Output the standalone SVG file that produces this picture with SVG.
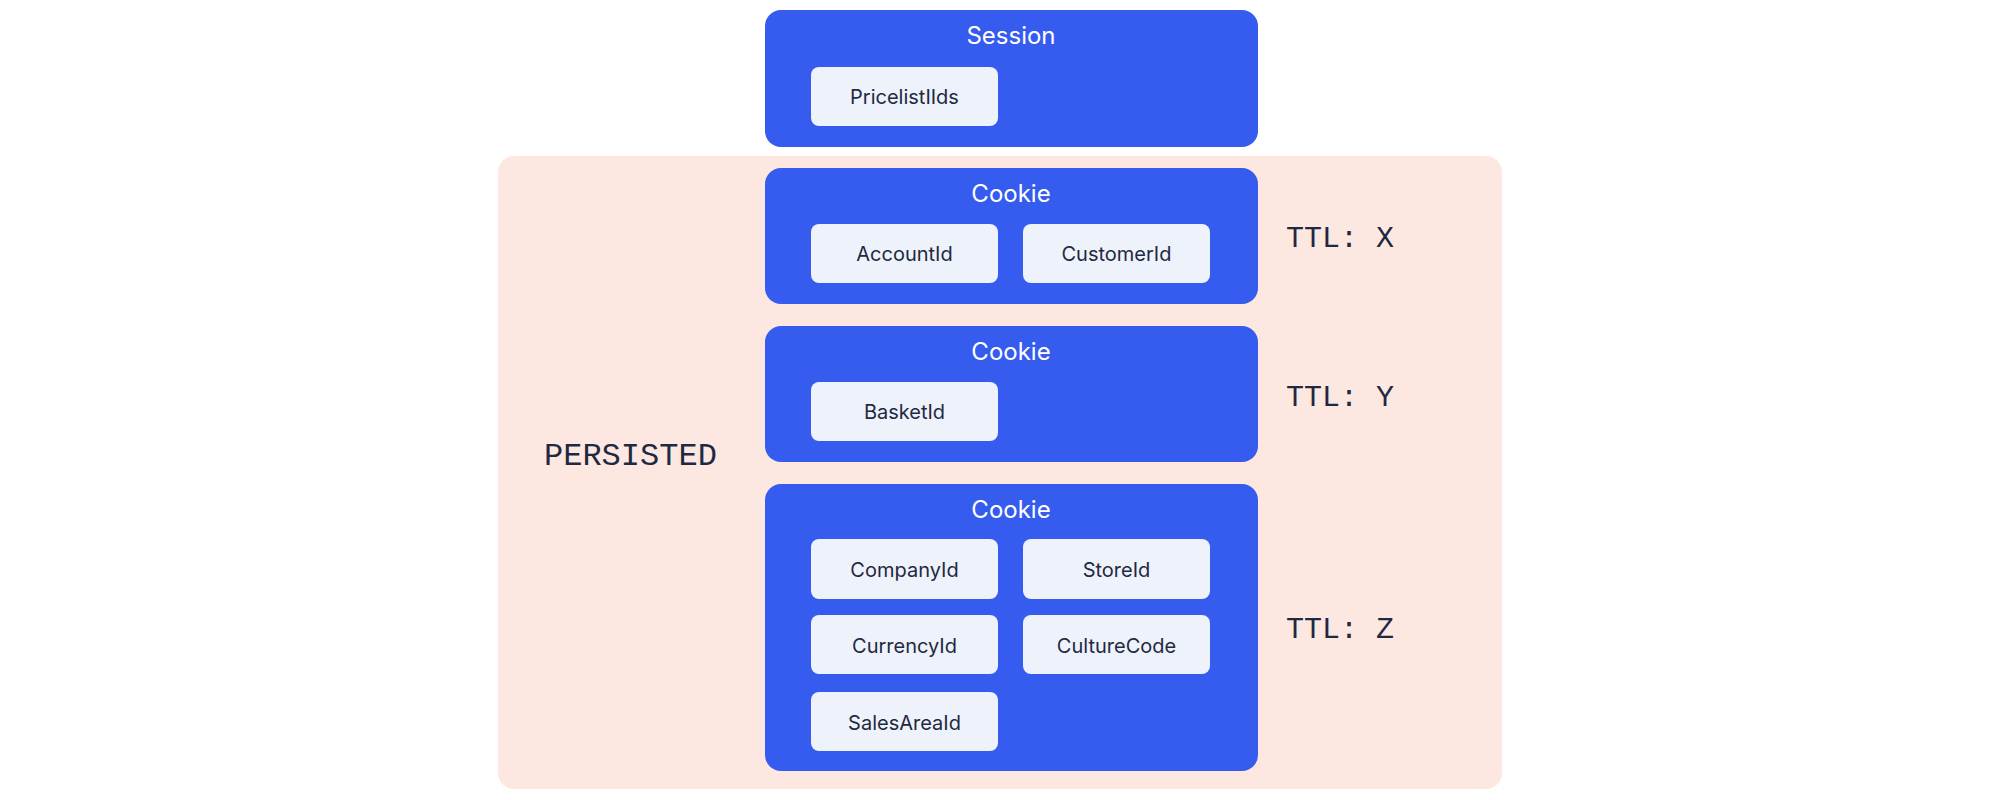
<svg xmlns="http://www.w3.org/2000/svg" width="2000" height="800" viewBox="0 0 2000 800">
<style>
.bg{fill:#fde7e1}
.box{fill:#355bef}
.item{fill:#eef2fa}
.title{font-family:Inter,"Liberation Sans",sans-serif;font-size:24px;fill:#ffffff;text-anchor:middle}
.lbl{font-family:Inter,"Liberation Sans",sans-serif;font-size:20px;fill:#1f2942;text-anchor:middle}
.mono{font-family:"Liberation Mono","DejaVu Sans Mono",monospace;fill:#1f2942}
</style>
<rect width="2000" height="800" fill="#ffffff"/>
<g id="persisted">
<rect class="bg" x="498" y="156" width="1004" height="633" rx="16"/>
<text class="mono" x="544" y="465" font-size="32">PERSISTED</text>
</g>
<g id="session">
<rect class="box" x="765" y="10" width="493" height="137" rx="16"/>
<text class="title" x="1011" y="44">Session</text>
<rect class="item" x="811" y="67" width="187" height="59" rx="8"/>
<text class="lbl" x="904.5" y="104">PricelistIIds</text>
</g>
<g id="cookie1">
<rect class="box" x="765" y="168" width="493" height="136" rx="16"/>
<text class="title" x="1011" y="202">Cookie</text>
<rect class="item" x="811" y="224" width="187" height="59" rx="8"/>
<text class="lbl" x="904.5" y="261">AccountId</text>
<rect class="item" x="1023" y="224" width="187" height="59" rx="8"/>
<text class="lbl" x="1116.5" y="261">CustomerId</text>
</g>
<g id="cookie2">
<rect class="box" x="765" y="326" width="493" height="136" rx="16"/>
<text class="title" x="1011" y="360">Cookie</text>
<rect class="item" x="811" y="382" width="187" height="59" rx="8"/>
<text class="lbl" x="904.5" y="419">BasketId</text>
</g>
<g id="cookie3">
<rect class="box" x="765" y="484" width="493" height="287" rx="16"/>
<text class="title" x="1011" y="518">Cookie</text>
<rect class="item" x="811" y="539" width="187" height="60" rx="8"/>
<text class="lbl" x="904.5" y="577">CompanyId</text>
<rect class="item" x="1023" y="539" width="187" height="60" rx="8"/>
<text class="lbl" x="1116.5" y="577">StoreId</text>
<rect class="item" x="811" y="615" width="187" height="59" rx="8"/>
<text class="lbl" x="904.5" y="653">CurrencyId</text>
<rect class="item" x="1023" y="615" width="187" height="59" rx="8"/>
<text class="lbl" x="1116.5" y="653">CultureCode</text>
<rect class="item" x="811" y="692" width="187" height="59" rx="8"/>
<text class="lbl" x="904.5" y="730">SalesAreaId</text>
</g>
<g id="ttl">
<text class="mono" x="1286" y="247" font-size="30">TTL: X</text>
<text class="mono" x="1286" y="406" font-size="30">TTL: Y</text>
<text class="mono" x="1286" y="638" font-size="30">TTL: Z</text>
</g>
<g id="connectors"></g>
</svg>
